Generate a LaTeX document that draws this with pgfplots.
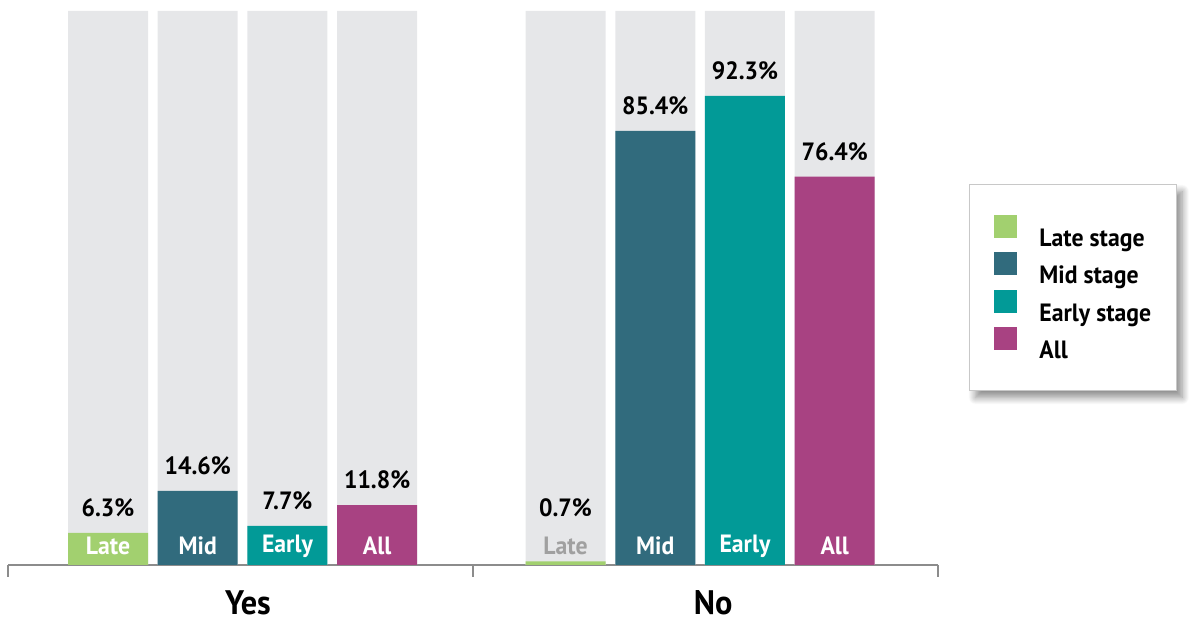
\documentclass[border=0pt]{standalone}
\usepackage{fontspec}
\setmainfont{PT Sans}[FakeStretch=0.95]
\usepackage{pgfplots}
\pgfplotsset{compat=1.18}
\usetikzlibrary{shadows.blur}

\definecolor{lateC}{HTML}{A2D06F}
\definecolor{midC}{HTML}{316B7D}
\definecolor{earlyC}{HTML}{029A97}
\definecolor{allC}{HTML}{A84282}
\definecolor{trackC}{HTML}{E6E7E9}
\definecolor{axisC}{HTML}{8C8C8C}
\definecolor{frameC}{HTML}{C8C8C8}
\definecolor{dimtxt}{HTML}{A0A0A0}

\newcommand{\lblfont}{\fontsize{25}{30}\selectfont\bfseries}
\newcommand{\grpfont}{\fontsize{34}{40}\selectfont\bfseries}

\begin{document}
\begin{tikzpicture}
\useasboundingbox (0,0) rectangle (1196pt,623pt);
\begin{axis}[
  at={(8pt,58pt)}, anchor=south west,
  scale only axis, width=930pt, height=554pt,
  xmin=-1.115, xmax=9.252, ymin=0, ymax=109,
  clip=false,
  axis x line*=bottom, axis y line=none,
  x axis line style={draw=axisC, line width=1.5pt},
  xtick={-1.115,4.07,9.252}, xticklabels={},
  ytick=\empty,
  major tick length=12pt, tick align=outside,
  xtick style={draw=axisC, line width=1.5pt},
  ybar, bar width=80pt, bar shift=0pt,
  sq/.style={draw=none, fill=#1,
    legend image code/.code={%
      \pgfsetfillcolor{#1}%
      \pgfpathrectangle{\pgfpoint{0pt}{-2.5pt}}{\pgfpoint{23pt}{23pt}}%
      \pgfusepath{fill}}},
  val/.style={
    nodes near coords={\pgfmathprintnumber[fixed,precision=1,fixed zerofill,assume math mode=true]{\pgfplotspointmeta}\%},
    point meta=y,
    visualization depends on={y \as \rawy},
    nodes near coords style={anchor=center, text=black, font=\lblfont,
      yshift={25+max(0,6.3-\rawy)*5.083}},
  },
  legend style={at={(1.0333,0.6877)}, anchor=north west,
    draw=frameC, line width=1pt, fill=white,
    inner xsep=25pt, inner ysep=30pt, row sep=4pt,
    nodes={inner sep=0pt, text height=24pt, text depth=2pt, font=\lblfont},
    /tikz/every odd column/.append style={column sep=22pt},
    blur shadow={shadow xshift=6pt, shadow yshift=-7pt, shadow blur radius=7pt, shadow blur steps=12, shadow opacity=45}},
  legend cell align=left,
]
% full-height tracks behind every bar
\addplot[draw=none, fill=trackC, forget plot] coordinates
  {(0,109) (1,109) (2,109) (3,109) (5.1,109) (6.1,109) (7.1,109) (8.1,109)};

\addplot[sq=lateC, val] coordinates {(0,6.3) (5.1,0.7)};
\addplot[sq=midC, val] coordinates {(1,14.6) (6.1,85.4)};
\addplot[sq=earlyC, val] coordinates {(2,7.7) (7.1,92.3)};
\addplot[sq=allC, val] coordinates {(3,11.8) (8.1,76.4)};
\legend{Late stage, Mid stage, Early stage, All}

% category names inside the bars
\node[font=\lblfont, text=white] at (axis cs:0,3.74) {Late};
\node[font=\lblfont, text=white] at (axis cs:1,3.74) {Mid};
\node[font=\lblfont, text=white] at (axis cs:2,3.74) {Early};
\node[font=\lblfont, text=white] at (axis cs:3,3.74) {All};
\node[font=\lblfont, text=dimtxt] at (axis cs:5.1,3.74) {Late};
\node[font=\lblfont, text=white] at (axis cs:6.1,3.74) {Mid};
\node[font=\lblfont, text=white] at (axis cs:7.1,3.74) {Early};
\node[font=\lblfont, text=white] at (axis cs:8.1,3.74) {All};

% group names under the brackets
\node[font=\grpfont, anchor=base, inner sep=0pt] at (axis cs:1.56,-9.8) {Yes};
\node[font=\grpfont, anchor=base, inner sep=0pt] at (axis cs:6.745,-9.8) {No};
\end{axis}
\end{tikzpicture}
\end{document}
